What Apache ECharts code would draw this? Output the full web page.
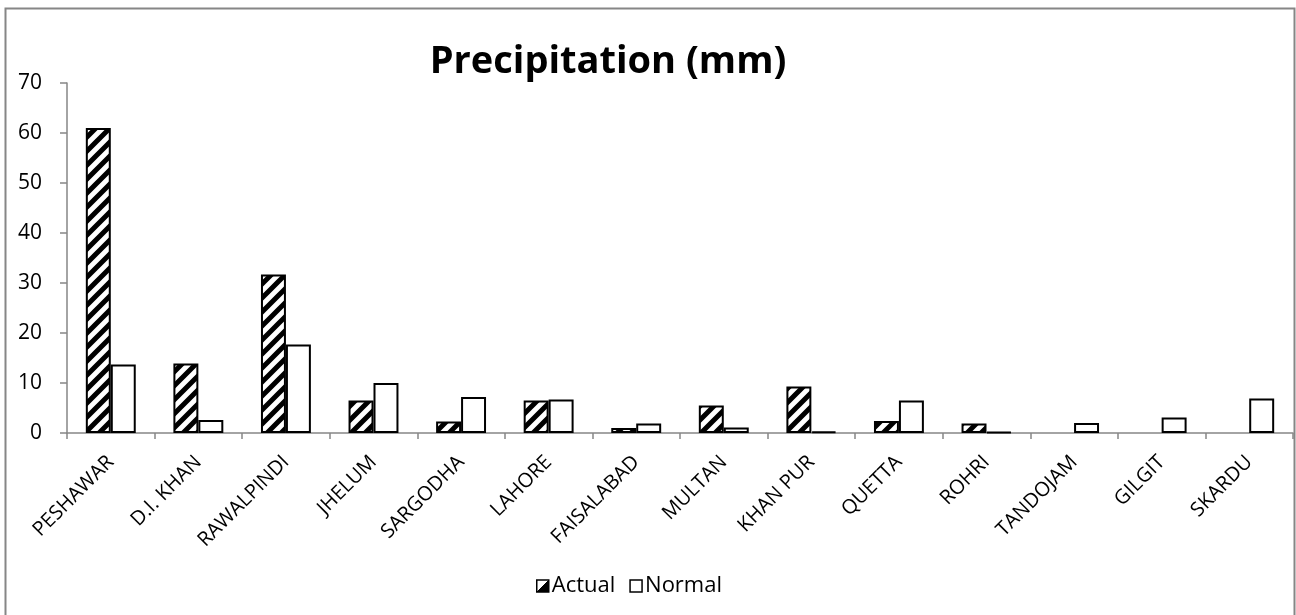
<!DOCTYPE html>
<html>
<head>
<meta charset="utf-8">
<title>Precipitation (mm)</title>
<script src="https://cdn.jsdelivr.net/npm/echarts@6/dist/echarts.min.js"></script>
<style>
  html, body { margin: 0; padding: 0; background: #fff; }
  #chart { width: 1296px; height: 615px; }
</style>
</head>
<body>
<div id="chart"></div>
<script>
// Stations and precipitation values (mm)
const stations = ['PESHAWAR', 'D.I. KHAN', 'RAWALPINDI', 'JHELUM', 'SARGODHA', 'LAHORE',
  'FAISALABAD', 'MULTAN', 'KHAN PUR', 'QUETTA', 'ROHRI', 'TANDOJAM', 'GILGIT', 'SKARDU'];
const actual = [61.0, 13.9, 31.7, 6.5, 2.3, 6.5, 1.0, 5.5, 9.3, 2.4, 1.9, null, null, null];
const normal = [13.7, 2.6, 17.7, 10.0, 7.2, 6.7, 1.9, 1.1, 0.3, 6.5, 0.2, 2.0, 3.1, 6.9];
const yTicks = { min: 0, max: 70, step: 10 };

// Diagonal black/white hatch fill for the "Actual" bars
function makeHatch() {
  const s = 14;
  const c = document.createElement('canvas');
  c.width = s; c.height = s;
  const ctx = c.getContext('2d');
  ctx.fillStyle = '#fff';
  ctx.fillRect(0, 0, s, s);
  ctx.strokeStyle = '#000';
  ctx.lineWidth = 5;
  ctx.beginPath();
  for (let k = -1; k <= 1; k++) {
    ctx.moveTo(k * s - 2, s + 2);
    ctx.lineTo(k * s + s + 2, -2);
  }
  ctx.stroke();
  return c;
}

// Half-filled swatch used as the legend key for the hatched series
const halfSwatch = {
  type: 'linear', x: 0, y: 0, x2: 1, y2: 1,
  colorStops: [
    { offset: 0, color: '#fff' }, { offset: 0.5, color: '#fff' },
    { offset: 0.5, color: '#000' }, { offset: 1, color: '#000' }
  ]
};

const font = '"Open Sans", sans-serif';
const axisGray = '#868686';

const chart = echarts.init(document.getElementById('chart'), null, { renderer: 'canvas' });
chart.setOption({
  animation: false,
  backgroundColor: '#fff',
  title: {
    text: 'Precipitation (mm)',
    left: 608,
    textAlign: 'center',
    top: 43,
    padding: 0,
    textStyle: { fontFamily: font, fontWeight: 'bold', fontSize: 38, color: '#000' }
  },
  legend: {
    bottom: 13,
    left: 531,
    itemWidth: 12,
    itemHeight: 12,
    itemGap: 14,
    icon: 'rect',
    textStyle: { fontFamily: font, fontSize: 22, color: '#000', padding: [0, 0, 0, -2] },
    data: [
      { name: 'Actual', itemStyle: { color: halfSwatch, borderColor: '#000', borderWidth: 1.5 } },
      { name: 'Normal', itemStyle: { color: '#fff', borderColor: '#000', borderWidth: 1.5 } }
    ]
  },
  grid: { left: 67, right: 3, top: 83, bottom: 182, containLabel: false },
  xAxis: {
    type: 'category',
    data: stations,
    axisLine: { lineStyle: { color: axisGray, width: 1.5 } },
    axisTick: { show: true, length: 6, lineStyle: { color: axisGray, width: 1.5 } },
    axisLabel: {
      rotate: 45,
      interval: 0,
      margin: 26,
      padding: [25, 0, 0, 0],
      fontFamily: font,
      fontSize: 20,
      color: '#000'
    }
  },
  yAxis: {
    type: 'value',
    min: yTicks.min,
    max: yTicks.max,
    interval: yTicks.step,
    axisLine: { show: true, lineStyle: { color: axisGray, width: 1.5 } },
    axisTick: { show: true, length: 7, lineStyle: { color: axisGray, width: 1.5 } },
    splitLine: { show: false },
    axisLabel: { fontFamily: font, fontSize: 21, color: '#000', margin: 25 }
  },
  series: [
    {
      name: 'Actual',
      type: 'bar',
      data: actual,
      barGap: '0%',
      barCategoryGap: '43%',
      itemStyle: {
        color: { image: makeHatch(), repeat: 'repeat' },
        borderColor: '#000',
        borderWidth: 2
      }
    },
    {
      name: 'Normal',
      type: 'bar',
      data: normal,
      barGap: '0%',
      barCategoryGap: '43%',
      itemStyle: { color: '#fff', borderColor: '#000', borderWidth: 2 }
    }
  ],
  graphic: [
    {
      type: 'rect',
      shape: { x: 5.5, y: 8.5, width: 1289, height: 640 },
      style: { fill: null, stroke: axisGray, lineWidth: 2 },
      silent: true
    }
  ]
});
</script>
</body>
</html>
